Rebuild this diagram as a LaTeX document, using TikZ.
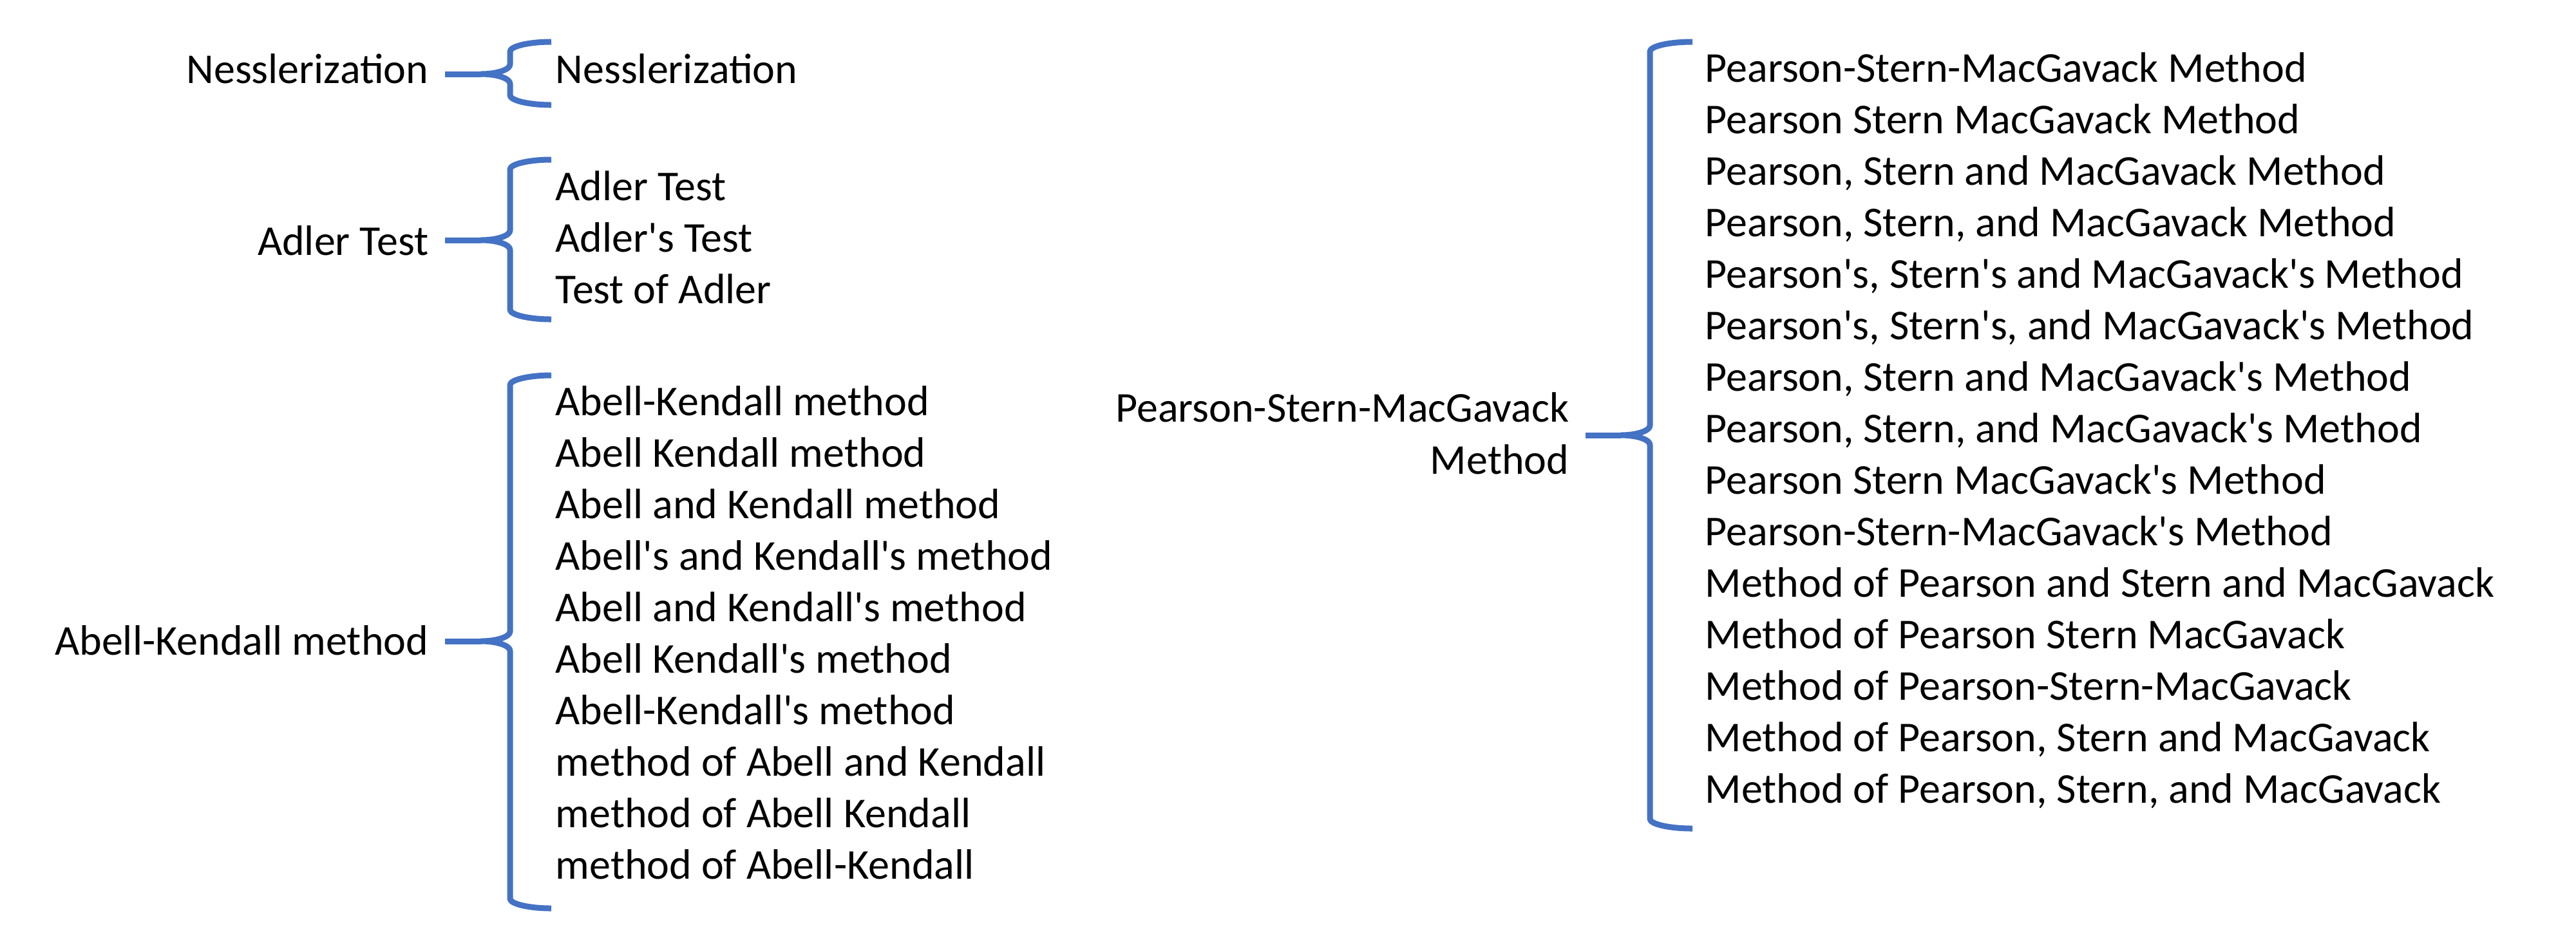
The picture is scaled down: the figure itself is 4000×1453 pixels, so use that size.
\documentclass[tikz,border=0pt]{standalone}
\usepackage{fontspec}
\setmainfont{Carlito}[Ligatures=TeXOff]
\definecolor{bracecol}{HTML}{4472C4}
% #1 vertical x, #2 top y, #3 tip y, #4 bottom y, #5 arm end x
\newcommand\mybrace[5]{%
  \draw[bracestroke] (#5,#2) .. controls ({#1+29},#2) and (#1,{#2+7}) .. (#1,{#2+15})
    -- (#1,{#3-15}) .. controls (#1,{#3-7}) and ({#1-20},#3) .. ({#1-45},#3)
    .. controls ({#1-20},#3) and (#1,{#3+7}) .. (#1,{#3+15})
    -- (#1,{#4-15}) .. controls (#1,{#4-7}) and ({#1+29},#4) .. (#5,#4);}
\begin{document}
\begin{tikzpicture}[x=0.01cm,y=-0.01cm,
  txt/.style={inner sep=0pt, font=\fontsize{18.78pt}{22.76pt}\selectfont},
  lbl/.style={txt, inner xsep=0.25cm, anchor=base east},
  item/.style={txt, anchor=base west},
  bracestroke/.style={draw=bracecol, line width=0.09cm, line cap=butt, line join=round}]
\path[fill=white] (0,0) rectangle (4000,1453);

% left labels
\node[lbl] (lblN) at (691,129) {Nesslerization};
\node[lbl] (lblA) at (691,396) {Adler Test};
\node[lbl] (lblK) at (691,1017) {Abell-Kendall method};
\node[lbl, font=\fontsize{18.78pt}{23.3pt}\selectfont] (lblP) at (2462,655)
  {\begin{tabular}[t]{@{}r@{}}Pearson-Stern-MacGavack\\Method\end{tabular}};

% tips of the braces
\coordinate (tipN) at (747,115);
\coordinate (tipA) at (747,373);
\coordinate (tipK) at (747,996);
\coordinate (tipP) at (2517,676);

% braces
\mybrace{792}{65}{115}{163}{856}
\mybrace{792}{248}{373}{496}{856}
\mybrace{792}{583}{996}{1411}{856}
\mybrace{2562}{65}{676}{1287}{2628}

% stubs (label to brace tip)
\draw[bracestroke] (lblN.east |- tipN) -- (tipN);
\draw[bracestroke] (lblA.east |- tipA) -- (tipA);
\draw[bracestroke] (lblK.east |- tipK) -- (tipK);
\draw[bracestroke] (lblP.east |- tipP) -- (tipP);

% lists
\node[item] (n0) at (862,129) {Nesslerization};

\foreach \t [count=\i from 0] in {{Adler Test},{Adler's Test},{Test of Adler}}
  \node[item] (ad\i) at (862,{311+80*\i}) {\t};

\foreach \t [count=\i from 0] in {{Abell-Kendall method},{Abell Kendall method},
  {Abell and Kendall method},{Abell's and Kendall's method},{Abell and Kendall's method},
  {Abell Kendall's method},{Abell-Kendall's method},{method of Abell and Kendall},
  {method of Abell Kendall},{method of Abell-Kendall}}
  \node[item] (ak\i) at (862,{645+80*\i}) {\t};

\foreach \t [count=\i from 0] in {{Pearson-Stern-MacGavack Method},
  {Pearson Stern MacGavack Method},
  {Pearson, Stern and MacGavack Method},
  {Pearson, Stern, and MacGavack Method},
  {Pearson's, Stern's and MacGavack's Method},
  {Pearson's, Stern's, and MacGavack's Method},
  {Pearson, Stern and MacGavack's Method},
  {Pearson, Stern, and MacGavack's Method},
  {Pearson Stern MacGavack's Method},
  {Pearson-Stern-MacGavack's Method},
  {Method of Pearson and Stern and MacGavack},
  {Method of Pearson Stern MacGavack},
  {Method of Pearson-Stern-MacGavack},
  {Method of Pearson, Stern and MacGavack},
  {Method of Pearson, Stern, and MacGavack}}
  \node[item] (ps\i) at (2647,{127+80*\i}) {\t};
\end{tikzpicture}
\end{document}
